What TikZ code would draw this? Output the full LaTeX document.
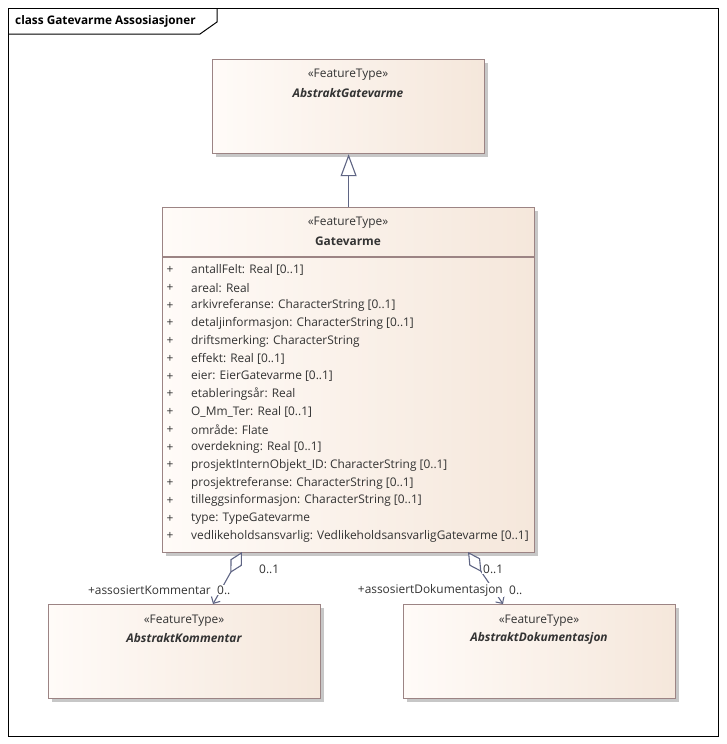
\documentclass[tikz,border=0pt]{standalone}
\usepackage{fontspec}
\setmainfont{Open Sans}
\usetikzlibrary{arrows.meta,shadows,positioning}
\definecolor{umlborder}{HTML}{9C8484}
\definecolor{umlline}{HTML}{5F6584}
\definecolor{umlfillL}{HTML}{FFFBF8}
\definecolor{umlfillR}{HTML}{F5E7DB}
\definecolor{umltext}{HTML}{333333}
\tikzset{
  classbox/.style={draw=umlborder, line width=1.2pt, left color=umlfillL, right color=umlfillR,
    drop shadow={shadow xshift=3pt, shadow yshift=-3pt, fill=black!22, opacity=1},
    anchor=north west, inner sep=0pt},
  umlfont/.style={font=\fontsize{11.9}{14}\selectfont, text=umltext, inner sep=0pt},
  stereo/.style={umlfont},
  cname/.style={umlfont, font=\fontsize{11.9}{14}\selectfont\bfseries},
  aname/.style={umlfont, font=\fontsize{11.9}{14}\selectfont\bfseries\itshape},
  attr/.style={umlfont, anchor=west},
  rolelbl/.style={umlfont, fill=white, inner sep=1pt},
  assoc/.style={draw=umlline, line width=1.1pt,
    {Diamond[length=24pt,width=13pt,fill=white,line width=1.1pt]}-{Straight Barb[length=5pt,width=10pt,line width=1.1pt]}},
  general/.style={draw=umlline, line width=1.1pt, -{Triangle[length=22pt,width=16pt,fill=white,line width=1.1pt]}}
}
\begin{document}
\begin{tikzpicture}[x=1pt,y=-1pt]
  \useasboundingbox (0,0) rectangle (726,744);
  \draw[line width=1pt] (8,8) rectangle (718,736);
  \draw[line width=1pt] (8,34) -- (200,34) -- (217,22) -- (217,8);
  \node[font=\fontsize{11.8}{14}\selectfont\bfseries, anchor=west, inner sep=0pt] (title) at (15,21) {class Gatevarme Assosiasjoner};

  \node[classbox, minimum width=272pt, minimum height=94pt] (abstrGatevarme) at (212,59) {};
  \node[stereo] (abstrGatevarmeSt) at (348,75) {«FeatureType»};
  \node[aname] (abstrGatevarmeNm) at (348,93) {AbstraktGatevarme};

  \node[classbox, minimum width=372pt, minimum height=345pt] (gatevarme) at (162,207) {};
  \draw[umlborder, line width=1.2pt] ([yshift=-50pt]gatevarme.north west) -- ([yshift=-50pt]gatevarme.north east);
  \node[stereo] (gatevarmeSt) at (348,223) {«FeatureType»};
  \node[cname] (gatevarmeNm) at (348,241) {Gatevarme};
  \foreach \a [count=\i from 0] in {antallFelt: Real [0..1], areal: Real,
      arkivreferanse: CharacterString [0..1], detaljinformasjon: CharacterString [0..1],
      driftsmerking: CharacterString, effekt: Real [0..1], eier: EierGatevarme [0..1],
      etableringsår: Real, O\_Mm\_Ter: Real [0..1], område: Flate, overdekning: Real [0..1],
      prosjektInternObjekt\_ID: CharacterString [0..1], prosjektreferanse: CharacterString [0..1],
      tilleggsinformasjon: CharacterString [0..1], type: TypeGatevarme,
      vedlikeholdsansvarlig: VedlikeholdsansvarligGatevarme [0..1]}{
    \node[umlfont] (plus\i) at (170,270+17.75*\i) {+};
    \node[attr] (attr\i) at (191,270+17.75*\i) {\a};
  }

  \node[classbox, minimum width=272pt, minimum height=94pt] (kommentar) at (48,604) {};
  \node[stereo] (kommentarSt) at (184,621) {«FeatureType»};
  \node[aname] (kommentarNm) at (184,638) {AbstraktKommentar};

  \node[classbox, minimum width=272pt, minimum height=94pt] (dokumentasjon) at (403,604) {};
  \node[stereo] (dokumentasjonSt) at (539,621) {«FeatureType»};
  \node[aname] (dokumentasjonNm) at (539,638) {AbstraktDokumentasjon};

  \coordinate (genS) at (gatevarme.north -| abstrGatevarme.south);
  \draw[general] (genS) -- (abstrGatevarme.south);

  \coordinate (kS) at (242,552);
  \coordinate (kE) at (213,604);
  \coordinate (dS) at (468,552);
  \coordinate (dE) at (503,604);
  \draw[assoc] (kS) -- (kE);
  \draw[assoc] (dS) -- (dE);

  \node[rolelbl, anchor=west] (kMultS) at (258,569) {0..1};
  \node[rolelbl, anchor=east] (kRole) at (212,590) {+assosiertKommentar};
  \node[rolelbl, anchor=west] (kMultE) at (216,590) {0..};
  \node[rolelbl, anchor=west] (dMultS) at (482,569) {0..1};
  \node[rolelbl, anchor=east] (dRole) at (504,590) {+assosiertDokumentasjon};
  \node[rolelbl, anchor=west] (dMultE) at (508,590) {0..};
\end{tikzpicture}
\end{document}
